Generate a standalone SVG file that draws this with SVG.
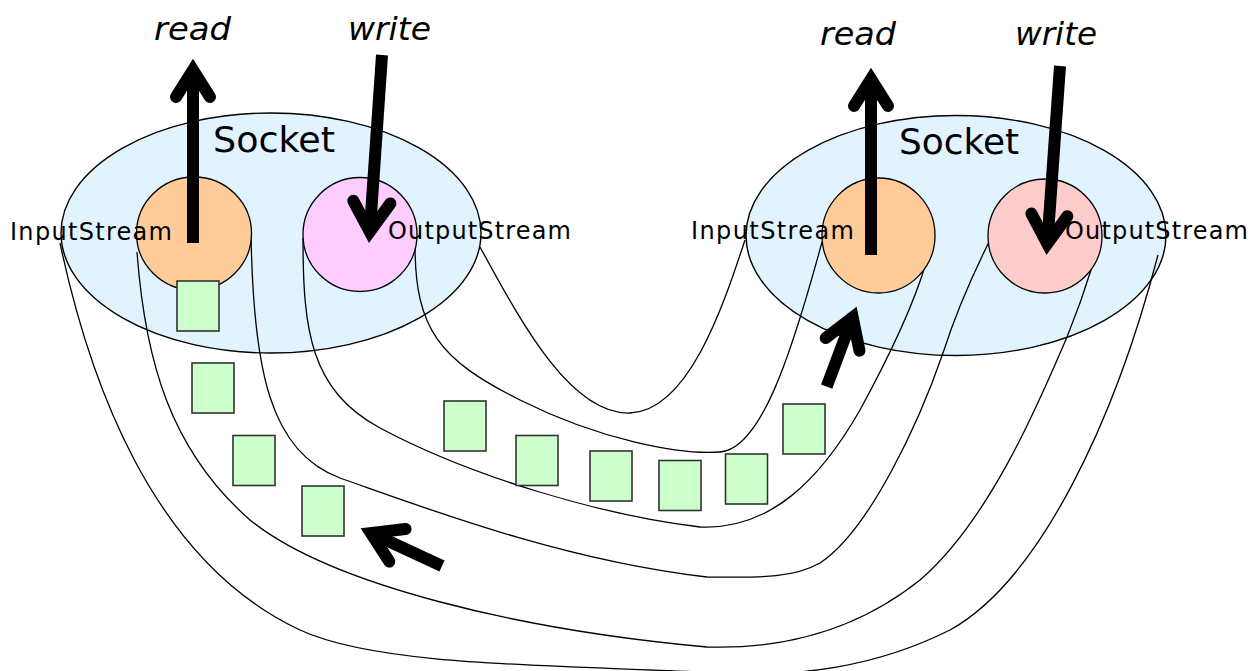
<svg xmlns="http://www.w3.org/2000/svg" width="1254" height="671" viewBox="0 0 1254 671">
  <style>
    .socket { fill: #E1F3FF; stroke: #000; stroke-width: 1.4; }
    .in { fill: #FFCC99; stroke: #000; stroke-width: 1.3; }
    .out-a { fill: #FFCCFF; stroke: #000; stroke-width: 1.3; }
    .out-b { fill: #FFCCCC; stroke: #000; stroke-width: 1.3; }
    .wire { fill: none; stroke: #000; stroke-width: 1.3; }
    .packet { fill: #CCFFCC; stroke: #333; stroke-width: 1.6; }
    .shaft { fill: none; stroke: #000; stroke-width: 12; stroke-linecap: butt; }
    .head { fill: none; stroke: #000; stroke-width: 12; stroke-linecap: round; stroke-linejoin: miter; stroke-miterlimit: 10; }
    .title { font-family: "DejaVu Sans", Verdana, sans-serif; font-size: 35px; fill: #000; }
    .stream { font-family: "DejaVu Sans", Verdana, sans-serif; font-size: 24px; fill: #000; }
    .op { font-family: "DejaVu Sans", Verdana, sans-serif; font-size: 32px; font-style: italic; fill: #000; }
  </style>

  <!-- socket bodies -->
  <g id="socket-left">
    <ellipse class="socket" cx="271" cy="233" rx="210" ry="120"/>
  </g>
  <g id="socket-right">
    <ellipse class="socket" cx="956" cy="235.5" rx="210" ry="120"/>
  </g>

  <!-- the pipes between the two sockets -->
  <g id="connectors">
    <!-- outer rim: left socket edge to right socket edge -->
    <path class="wire" d="M60,243 C88,375 150,560 300,630 C380,667 560,665 700,672 C800,680 880,665 950,630 C1040,580 1115,420 1158,255"/>
    <!-- left InputStream (left side) to right OutputStream (right side) -->
    <path class="wire" d="M137,252 C145,360 170,450 250,520 C330,585 520,630 707,647 C800,650 870,620 920,580 C990,520 1040,400 1067,337 C1080,305 1088,280 1092,267"/>
    <!-- left InputStream (right side) to right OutputStream (left side) -->
    <path class="wire" d="M251,232 C253,370 270,452 340,478 C420,506 560,560 707,577 C750,577 790,580 820,563 C870,530 920,420 943,353 C960,300 980,260 990,240"/>
    <!-- left OutputStream (left side) to right InputStream (right side) -->
    <path class="wire" d="M303,238 C303,330 310,390 380,428 C470,476 600,515 700,527 C770,530 820,480 860,410 C890,355 915,300 926,263"/>
    <!-- left OutputStream (right side) to right InputStream (left side) -->
    <path class="wire" d="M415,245 C415,330 440,360 520,400 C600,440 680,455 720,452 C760,449 790,360 822,242"/>
    <!-- inner rim: left socket edge to right socket edge -->
    <path class="wire" d="M480,247 C520,320 570,415 630,413 C690,411 725,300 745,240"/>
  </g>

  <!-- streams -->
  <g id="input-left">
    <ellipse class="in" cx="194" cy="233.5" rx="57.5" ry="56.5"/>
  </g>
  <g id="output-left">
    <ellipse class="out-a" cx="360" cy="234.5" rx="57" ry="57"/>
  </g>
  <g id="input-right">
    <ellipse class="in" cx="878.5" cy="235.5" rx="56.5" ry="57.5"/>
  </g>
  <g id="output-right">
    <ellipse class="out-b" cx="1045" cy="236" rx="57" ry="57"/>
  </g>

  <!-- data packets -->
  <g id="packets">
    <rect class="packet" x="177" y="281" width="42" height="50"/>
    <rect class="packet" x="192" y="363" width="42" height="50"/>
    <rect class="packet" x="233" y="435.5" width="42" height="50"/>
    <rect class="packet" x="302" y="486" width="42" height="50"/>
    <rect class="packet" x="444" y="401" width="42" height="50"/>
    <rect class="packet" x="516" y="435.5" width="42" height="50"/>
    <rect class="packet" x="590" y="451" width="42" height="50"/>
    <rect class="packet" x="659" y="460.5" width="42" height="50"/>
    <rect class="packet" x="725.5" y="454" width="42" height="50"/>
    <rect class="packet" x="783" y="404" width="42" height="50"/>
  </g>

  <!-- flow arrows -->
  <g id="arrows">
    <!-- left read -->
    <line class="shaft" x1="193" y1="243" x2="193" y2="72"/>
    <polyline class="head" points="176,97 193,70 210,97"/>
    <!-- left write -->
    <line class="shaft" x1="382" y1="55" x2="370" y2="229"/>
    <polyline class="head" points="353.3,200.8 369.8,231.7 390.4,203.4"/>
    <!-- right read -->
    <line class="shaft" x1="871" y1="255" x2="871" y2="81"/>
    <polyline class="head" points="854,106 871,79 888,106"/>
    <!-- right write -->
    <line class="shaft" x1="1060" y1="66" x2="1047.5" y2="241"/>
    <polyline class="head" points="1031.4,213.6 1047.3,243.7 1067.3,216.2"/>
    <!-- packets travelling right to left -->
    <line class="shaft" x1="442" y1="566" x2="373" y2="534"/>
    <polyline class="head" points="389.3,561.6 370.9,533.1 405.6,529"/>
    <!-- packets arriving at the right input -->
    <line class="shaft" x1="826.7" y1="386.7" x2="853.5" y2="315"/>
    <polyline class="head" points="825.7,338 852.7,317.3 859.5,350.7"/>
  </g>

  <!-- labels -->
  <g id="labels">
    <text class="title" x="213" y="152" textLength="122" lengthAdjust="spacingAndGlyphs">Socket</text>
    <text class="title" x="899" y="154" textLength="120" lengthAdjust="spacingAndGlyphs">Socket</text>
    <text class="stream" x="10" y="240" textLength="162" lengthAdjust="spacing">InputStream</text>
    <text class="stream" x="388" y="239" textLength="183" lengthAdjust="spacing">OutputStream</text>
    <text class="stream" x="691" y="239" textLength="163" lengthAdjust="spacing">InputStream</text>
    <text class="stream" x="1065" y="239" textLength="183" lengthAdjust="spacing">OutputStream</text>
    <text class="op" x="154" y="40" textLength="77" lengthAdjust="spacingAndGlyphs">read</text>
    <text class="op" x="348" y="40" textLength="83" lengthAdjust="spacingAndGlyphs">write</text>
    <text class="op" x="820" y="45" textLength="76" lengthAdjust="spacingAndGlyphs">read</text>
    <text class="op" x="1015" y="45" textLength="82" lengthAdjust="spacingAndGlyphs">write</text>
  </g>
</svg>
